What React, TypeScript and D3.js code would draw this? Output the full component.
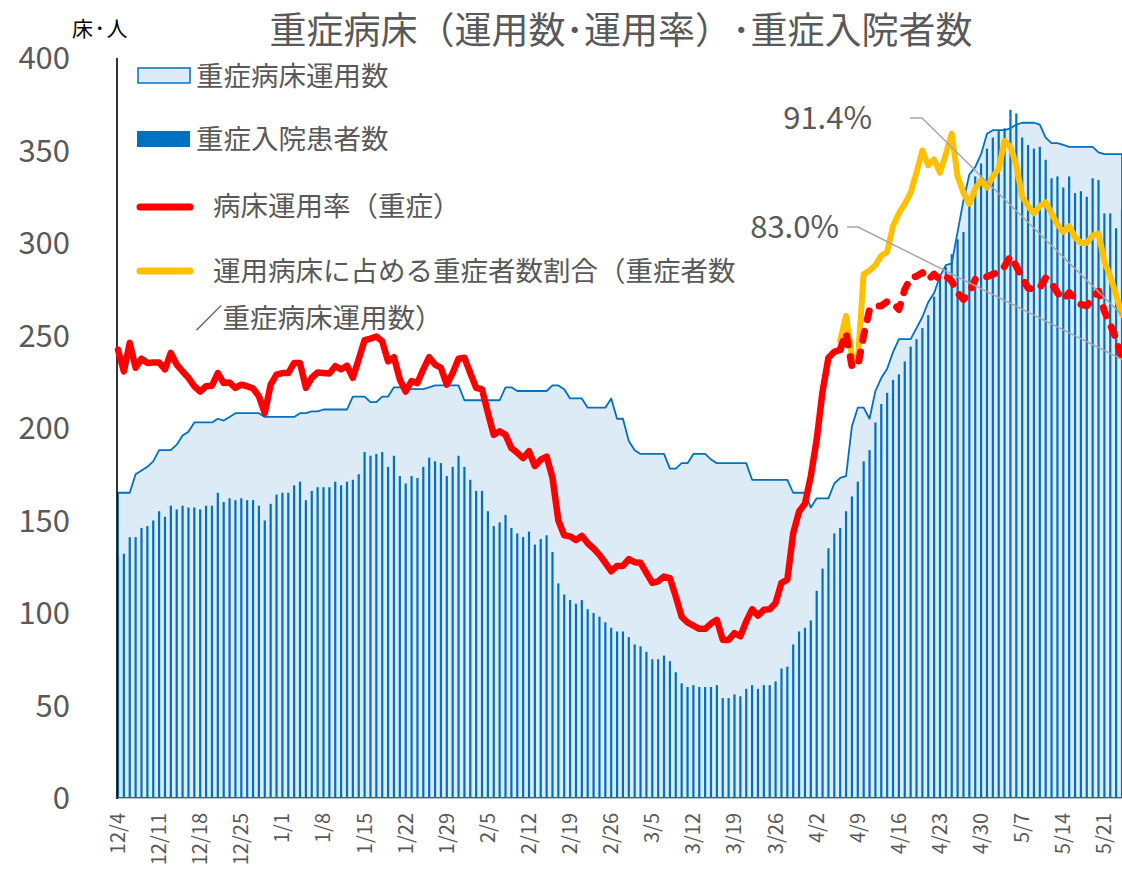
import React from 'react';
import * as d3 from 'd3';

const startDate = new Date(2020, 11, 4);
const tickLabels = ['12/4','12/11','12/18','12/25','1/1','1/8','1/15','1/22','1/29','2/5','2/12','2/19','2/26','3/5','3/12','3/19','3/26','4/2','4/9','4/16','4/23','4/30','5/7','5/14','5/21'];
const yTicks = [0, 50, 100, 150, 200, 250, 300, 350, 400];

// 重症病床運用数 (beds), 12/4 .. 5/24
const beds = [
  165,165,165,175,177,179,182,188,188,188,
  191,196,198,203,203,203,203,205,204,206,
  208,208,208,208,208,206,206,206,206,206,
  206,208,208,209,209,210,210,210,210,210,
  217,217,217,214,214,217,217,222,222,221,
  221,221,221,222,223,223,223,223,223,215,
  215,215,215,215,215,215,222,222,220,220,
  220,220,220,220,223,223,221,216,216,216,
  211,211,211,211,216,205,205,193,188,186,
  186,186,186,186,178,178,181,181,186,186,
  186,183,181,181,181,181,181,181,172,172,
  172,172,172,172,172,165,165,165,157,162,
  162,162,170,173,174,201,211,211,205,220,
  227,232,241,248,248,248,254,260,268,273,
  282,288,289,306,323,337,341,348,359,361,
  361,361,362,364,365,365,365,364,357,354,
  354,353,352,352,352,352,352,349,348,348,
  348,348
];

// 重症入院患者数 (patients)
const patients = [
  131,132,141,141,146,147,150,155,152,158,
  156,158,157,157,156,158,158,165,160,162,
  161,162,161,161,158,150,159,164,165,165,
  169,171,161,166,168,168,168,171,169,171,
  172,175,187,185,186,187,179,185,174,170,
  174,173,179,184,182,181,174,179,185,179,
  172,166,166,155,147,149,153,146,143,141,
  144,137,140,142,133,116,110,107,105,107,
  102,100,98,95,92,90,90,87,83,82,
  79,75,75,77,74,68,62,60,61,60,
  60,60,61,54,54,56,55,59,61,59,
  61,61,63,70,71,83,90,92,96,112,
  124,135,143,146,155,163,171,182,188,203,
  213,219,226,229,236,244,248,254,261,271,
  282,287,294,302,306,320,336,343,351,357,
  361,362,372,370,357,353,351,352,345,335,
  336,330,336,327,328,325,335,334,316,316,
  308,318
];

// 病床運用率（重症） %
const occupancyRate = [
  84.8,80.7,86.1,81.4,83.1,82.3,82.4,82.4,81.1,84.2,
  82.0,80.7,79.5,77.9,76.9,77.9,78.0,80.4,78.5,78.6,
  77.6,78.2,77.9,77.5,76.0,72.8,78.2,80.1,80.4,80.4,
  82.3,82.3,77.6,79.5,80.5,80.4,80.3,81.7,81.1,81.8,
  79.5,83.0,86.6,86.9,87.3,86.4,82.6,83.4,79.2,76.9,
  78.9,78.5,81.1,83.4,82.0,81.4,78.2,80.4,83.1,83.3,
  80.4,77.6,77.3,72.9,68.7,69.4,68.7,66.2,65.3,64.3,
  65.6,62.8,64.0,64.6,60.6,52.5,49.7,49.5,48.8,49.6,
  48.2,47.2,46.0,44.5,42.9,43.9,43.9,45.2,44.6,44.5,
  42.6,40.7,41.0,41.9,41.6,38.1,34.3,33.2,32.6,32.0,
  32.0,33.0,33.7,29.9,29.9,31.2,30.6,33.4,35.7,34.5,
  35.6,35.7,36.9,40.7,41.3,50.1,54.2,55.7,60.9,67.8,
  76.9,83.3,84.4,84.8,88.0,81.7,81.7,87.5,92.4,93.1,
  93.1,93.9,93.7,92.4,96.2,98.4,98.7,99.4,98.1,99.1,
  98.1,98.7,97.8,95.6,94.3,95.6,98.1,98.6,98.6,99.1,
  99.4,100.6,102.5,100.6,98.4,96.5,96.2,96.5,98.4,97.4,
  95.6,94.3,95.6,94.6,93.4,93.1,94.5,95.9,92.1,89.6,
  86.8,83.0
];

// 運用病床に占める重症者数割合 %, from 4/6
const shareStart = 123;
const patientShare = [
  86.5,91.2,83.7,82.6,99.1,99.8,100.8,102.6,103.3,108.2,
  110.6,112.4,114.5,118.3,122.5,119.7,120.8,118.3,121.8,125.7,
  117.6,114.5,112.4,115.2,116.9,115.5,117.6,119.0,124.3,123.2,
  119.7,113.8,112.0,110.6,112.0,112.7,110.6,108.5,107.1,108.2,
  106.1,105.0,105.0,106.4,106.8,101.5,98.7,95.2,91.4
];
const dashedFrom = 123;

const FONT = "'Noto Sans CJK JP', 'Noto Sans', sans-serif";
const GREY = '#595959';

export default function App() {
  const W = 1122, H = 874;
  const dates = beds.map((_, i) => d3.timeDay.offset(startDate, i));
  const fmt = d3.timeFormat('%-m/%-d');
  const idx = d3.range(beds.length);
  const x = d3.scalePoint<number>().domain(idx).range([118, 1122]);
  const y = d3.scaleLinear().domain([0, 400]).range([798, 58]);
  const y2 = d3.scaleLinear().domain([0, 140]).range([798, 58]);

  const areaGen = d3.area<number>().x((_, i) => x(i)!).y0(y(0)).y1(d => y(d));
  const lineGen = d3.line<[number, number]>().x(d => x(d[0])!).y(d => y2(d[1]));
  const redPts: [number, number][] = occupancyRate.map((v, i) => [i, v]);
  const solidPath = lineGen(redPts.slice(0, dashedFrom + 1))!;
  const dashPath = lineGen(redPts.slice(dashedFrom))!;
  const yellowPath = lineGen(patientShare.map((v, i) => [i + shareStart, v] as [number, number]))!;

  const last = beds.length - 1;
  const tickIdx = idx.filter(i => tickLabels.includes(fmt(dates[i])) && i % 7 === 0);

  const legendFs = 27.5;
  return (
    <svg width={W} height={H} style={{ position: 'absolute', left: 0, top: 0, background: '#fff' }} fontFamily={FONT}>
      <rect x={0} y={0} width={W} height={H} fill="#fff" />
      {/* area */}
      <path d={areaGen(beds)!} fill="#DDEBF7" stroke="#0070C0" strokeWidth={1.8} strokeLinejoin="round" />
      {/* bars */}
      {patients.map((v, i) => (
        <rect key={i} x={x(i)! - 1.1} width={2.2} y={y(v)} height={y(0) - y(v)} fill="#0070C0" />
      ))}
      {/* axes */}
      <line x1={118} x2={1122} y1={798.5} y2={798.5} stroke="#BFBFBF" strokeWidth={1.2} />
      <line x1={117} x2={117} y1={58} y2={799} stroke="#000" strokeWidth={1.6} />
      {yTicks.map(t => (
        <text key={t} x={70} y={y(t) + 11} textAnchor="end" fontSize={31} fill={GREY}>{t}</text>
      ))}
      {tickIdx.map(i => (
        <text key={i} transform={`translate(${x(i)! + 7},813) rotate(-90)`} textAnchor="end" fontSize={20} fill={GREY}>{fmt(dates[i])}</text>
      ))}
      {/* lines */}
      <path d={yellowPath} fill="none" stroke="#FFC000" strokeWidth={6} strokeLinejoin="round" strokeLinecap="round" />
      <path d={solidPath} fill="none" stroke="#FF0000" strokeWidth={6.5} strokeLinejoin="round" strokeLinecap="round" />
      <path d={dashPath} fill="none" stroke="#FF0000" strokeWidth={7} strokeLinejoin="round" strokeLinecap="round" strokeDasharray="9 12" />
      {/* leaders */}
      <polyline points={`910,118 922,118 ${x(last)},${y2(patientShare[patientShare.length - 1])}`} fill="none" stroke="#A6A6A6" strokeWidth={1.5} />
      <polyline points={`847,227 858,227 ${x(last)},${y2(occupancyRate[last])}`} fill="none" stroke="#A6A6A6" strokeWidth={1.5} />
      <text x={872} y={129} textAnchor="end" fontSize={31} fill={GREY}>{patientShare[patientShare.length - 1].toFixed(1)}%</text>
      <text x={839} y={238} textAnchor="end" fontSize={31} fill={GREY}>{occupancyRate[last].toFixed(1)}%</text>
      {/* title */}
      <text x={621} y={44} textAnchor="middle" fontSize={37} fill={GREY}>重症病床（運用数･運用率）･重症入院者数</text>
      <text x={72} y={36} fontSize={21} letterSpacing={1.5} fill="#000">床･人</text>
      {/* legend */}
      <rect x={138} y={68} width={52} height={15} fill="#DDEBF7" stroke="#0070C0" strokeWidth={1.5} />
      <text x={196} y={76 + legendFs * 0.36} fontSize={legendFs} fill={GREY}>重症病床運用数</text>
      <rect x={137} y={131} width={53} height={16} fill="#0070C0" />
      <text x={196} y={139 + legendFs * 0.36} fontSize={legendFs} fill={GREY}>重症入院患者数</text>
      <line x1={140} x2={190} y1={207} y2={207} stroke="#FF0000" strokeWidth={7} strokeLinecap="round" />
      <text x={213} y={206 + legendFs * 0.36} fontSize={legendFs} fill={GREY}>病床運用率（重症）</text>
      <line x1={140} x2={190} y1={271} y2={271} stroke="#FFC000" strokeWidth={7} strokeLinecap="round" />
      <text x={213} y={271 + legendFs * 0.36} fontSize={legendFs} fill={GREY}>運用病床に占める重症者数割合（重症者数</text>
      <text x={195} y={318 + legendFs * 0.36} fontSize={legendFs} fill={GREY}>／重症病床運用数）</text>
    </svg>
  );
}
